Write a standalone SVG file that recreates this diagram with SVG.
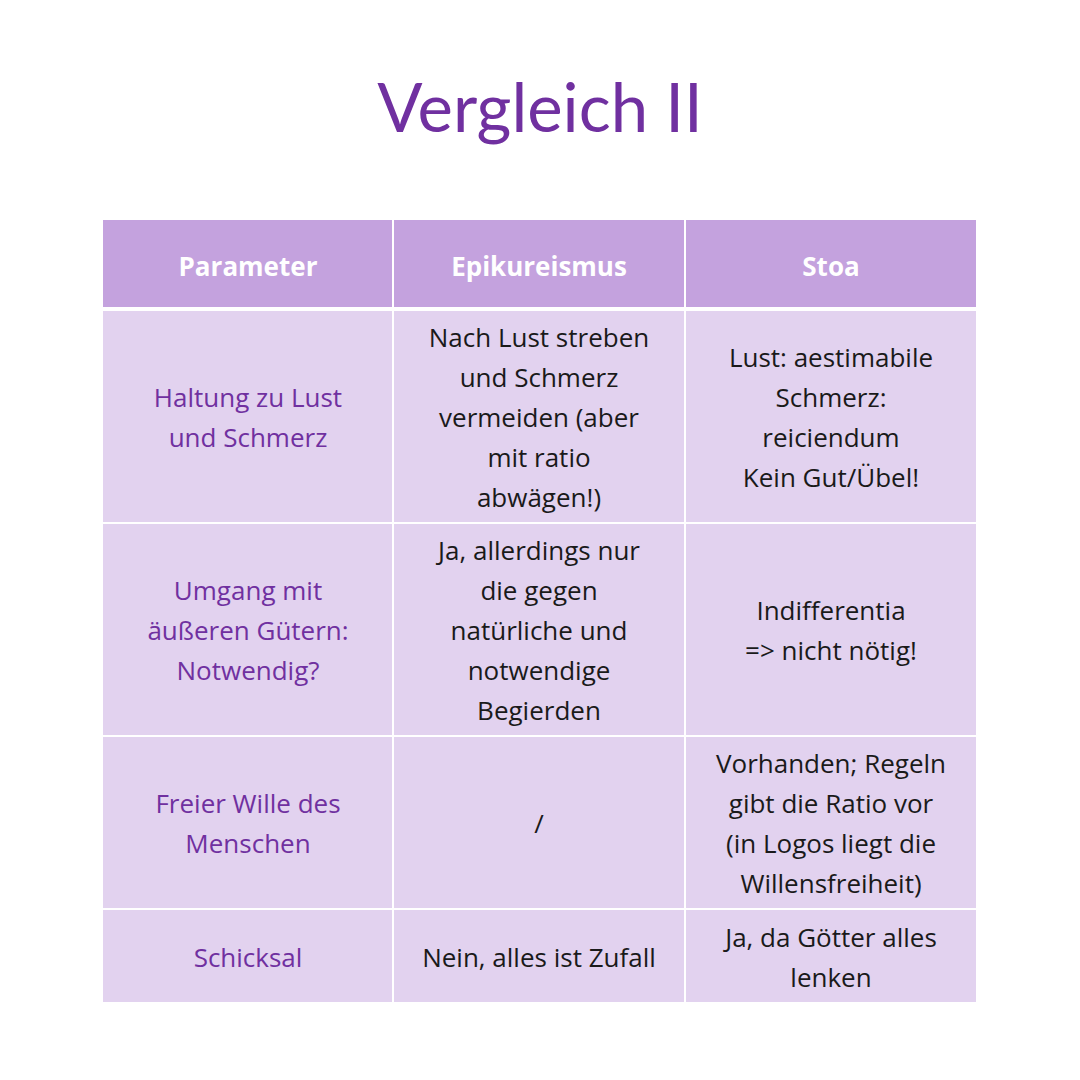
<svg xmlns="http://www.w3.org/2000/svg" width="1080" height="1080" viewBox="0 0 1080 1080">
<style>
.h{fill:#c4a2de}.b{fill:#e2d2ef}
text{font-family:"Open Sans",Lato,sans-serif;font-size:26px;text-anchor:middle}
.ht{fill:#fff;font-weight:bold}
.p{fill:#7030a0}
.k{fill:#1a1a1a}
</style>
<rect width="1080" height="1080" fill="#fff"/>
<text x="540" y="132" style="font-family:Lato,sans-serif;font-size:67px;fill:#7030a0">Vergleich II</text>
<g id="header">
<rect class="h" x="103" y="220" width="289" height="87"/>
<rect class="h" x="394" y="220" width="290" height="87"/>
<rect class="h" x="686" y="220" width="290" height="87"/>
<text class="ht" x="248" y="276">Parameter</text>
<text class="ht" x="539" y="276">Epikureismus</text>
<text class="ht" x="831" y="276">Stoa</text>
</g>
<g id="row1">
<rect class="b" x="103" y="311" width="289" height="211"/>
<rect class="b" x="394" y="311" width="290" height="211"/>
<rect class="b" x="686" y="311" width="290" height="211"/>
<text class="p" x="248" y="407">Haltung zu Lust</text>
<text class="p" x="248" y="447">und Schmerz</text>
<text class="k" x="539" y="347">Nach Lust streben</text>
<text class="k" x="539" y="387">und Schmerz</text>
<text class="k" x="539" y="427">vermeiden (aber</text>
<text class="k" x="539" y="467">mit ratio</text>
<text class="k" x="539" y="507">abwägen!)</text>
<text class="k" x="831" y="367">Lust: aestimabile</text>
<text class="k" x="831" y="407">Schmerz:</text>
<text class="k" x="831" y="447">reiciendum</text>
<text class="k" x="831" y="487">Kein Gut/Übel!</text>
</g>
<g id="row2">
<rect class="b" x="103" y="524" width="289" height="211"/>
<rect class="b" x="394" y="524" width="290" height="211"/>
<rect class="b" x="686" y="524" width="290" height="211"/>
<text class="p" x="248" y="600">Umgang mit</text>
<text class="p" x="248" y="640">äußeren Gütern:</text>
<text class="p" x="248" y="680">Notwendig?</text>
<text class="k" x="539" y="560">Ja, allerdings nur</text>
<text class="k" x="539" y="600">die gegen</text>
<text class="k" x="539" y="640">natürliche und</text>
<text class="k" x="539" y="680">notwendige</text>
<text class="k" x="539" y="720">Begierden</text>
<text class="k" x="831" y="620">Indifferentia</text>
<text class="k" x="831" y="660">=&gt; nicht nötig!</text>
</g>
<g id="row3">
<rect class="b" x="103" y="737" width="289" height="171"/>
<rect class="b" x="394" y="737" width="290" height="171"/>
<rect class="b" x="686" y="737" width="290" height="171"/>
<text class="p" x="248" y="813">Freier Wille des</text>
<text class="p" x="248" y="853">Menschen</text>
<text class="k" x="539" y="833">/</text>
<text class="k" x="831" y="773">Vorhanden; Regeln</text>
<text class="k" x="831" y="813">gibt die Ratio vor</text>
<text class="k" x="831" y="853">(in Logos liegt die</text>
<text class="k" x="831" y="893">Willensfreiheit)</text>
</g>
<g id="row4">
<rect class="b" x="103" y="910" width="289" height="92"/>
<rect class="b" x="394" y="910" width="290" height="92"/>
<rect class="b" x="686" y="910" width="290" height="92"/>
<text class="p" x="248" y="967">Schicksal</text>
<text class="k" x="539" y="967">Nein, alles ist Zufall</text>
<text class="k" x="831" y="947">Ja, da Götter alles</text>
<text class="k" x="831" y="987">lenken</text>
</g>
</svg>
